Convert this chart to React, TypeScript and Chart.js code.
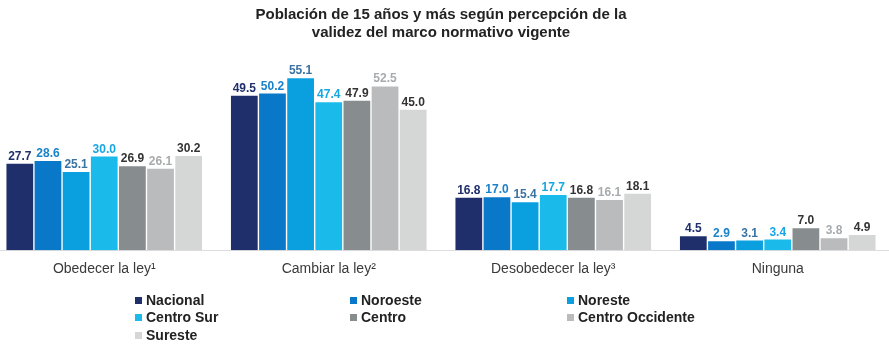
import React, { useEffect, useRef } from "react";
import { Chart, registerables } from "chart.js";

Chart.register(...registerables);

const titleLines = [
  "Población de 15 años y más según percepción de la",
  "validez del marco normativo vigente",
];
const categories = ["Obedecer la ley¹", "Cambiar la ley²", "Desobedecer la ley³", "Ninguna"];
const seriesNames = ["Nacional", "Noroeste", "Noreste", "Centro Sur", "Centro", "Centro Occidente", "Sureste"];
const nacional = [27.7, 49.5, 16.8, 4.5];
const noroeste = [28.6, 50.2, 17.0, 2.9];
const noreste = [25.1, 55.1, 15.4, 3.1];
const centroSur = [30.0, 47.4, 17.7, 3.4];
const centro = [26.9, 47.9, 16.8, 7.0];
const centroOccidente = [26.1, 52.5, 16.1, 3.8];
const sureste = [30.2, 45.0, 18.1, 4.9];
const seriesValues = [nacional, noroeste, noreste, centroSur, centro, centroOccidente, sureste];
const barColors = ["#1f2f6b", "#0a78c8", "#0aa0e0", "#1abbea", "#878c8f", "#b9bbbc", "#d5d6d6"];
const labelColors = ["#1f2f6b", "#1a82c8", "#3a72a2", "#16a6e2", "#333333", "#a8abad", "#333333"];

const valueLabelPlugin = {
  id: "valueLabels",
  afterDatasetsDraw(chart: any) {
    const ctx = chart.ctx;
    ctx.save();
    ctx.font = "bold 12px 'Liberation Sans', Arial, sans-serif";
    ctx.textAlign = "center";
    ctx.textBaseline = "alphabetic";
    chart.data.datasets.forEach((ds: any, di: number) => {
      const meta = chart.getDatasetMeta(di);
      meta.data.forEach((bar: any, i: number) => {
        ctx.fillStyle = labelColors[di];
        ctx.fillText(Number(ds.data[i]).toFixed(1), bar.x, bar.y - 4);
      });
    });
    ctx.restore();
  },
};

const legendPlugin = {
  id: "gridLegend",
  afterDraw(chart: any) {
    const ctx = chart.ctx;
    const colX = [143, 358, 575];
    const rowY = [300, 317, 335];
    ctx.save();
    ctx.font = "bold 14px 'Liberation Sans', Arial, sans-serif";
    ctx.textBaseline = "middle";
    ctx.textAlign = "left";
    seriesNames.forEach((name, i) => {
      const col = i % 3;
      const row = Math.floor(i / 3);
      const x = colX[col];
      const y = rowY[row];
      ctx.fillStyle = barColors[i];
      ctx.fillRect(x, y - 3, 7, 7);
      ctx.fillStyle = "#222222";
      ctx.fillText(name, x + 11, y + 1);
    });
    ctx.restore();
  },
};

export default function App() {
  const ref = useRef<HTMLCanvasElement>(null);
  useEffect(() => {
    if (!ref.current) return;
    const chart = new Chart(ref.current, {
      type: "bar",
      data: {
        labels: categories,
        datasets: seriesNames.map((name, i) => ({
          label: name,
          data: seriesValues[i],
          backgroundColor: barColors[i],
          borderWidth: 0,
          categoryPercentage: 0.8775,
          barPercentage: 0.95,
        })),
      },
      options: {
        responsive: false,
        animation: false,
        layout: { padding: { left: 0, right: 0, top: 0, bottom: 61 } },
        plugins: {
          legend: { display: false },
          tooltip: { enabled: false },
          title: {
            display: true,
            text: titleLines,
            color: "#222222",
            font: { family: "'Liberation Sans', Arial, sans-serif", size: 15, weight: "bold", lineHeight: 1.2 },
            padding: { top: 6, bottom: 21 },
          },
        },
        scales: {
          x: {
            grid: { display: false, drawTicks: false },
            border: { display: true, color: "#dddddd", width: 1 },
            ticks: {
              color: "#3a3a3a",
              padding: 11,
              font: { family: "'Liberation Sans', Arial, sans-serif", size: 14 },
            },
          },
          y: {
            display: false,
            min: 0,
            max: 60,
          },
        },
      },
      plugins: [valueLabelPlugin, legendPlugin],
    });
    return () => chart.destroy();
  }, []);
  return (
    <div style={{ position: "fixed", left: -8, top: 0, width: 898, height: 350, background: "#ffffff" }}>
      <canvas ref={ref} width={898} height={350} style={{ display: "block" }} />
    </div>
  );
}
